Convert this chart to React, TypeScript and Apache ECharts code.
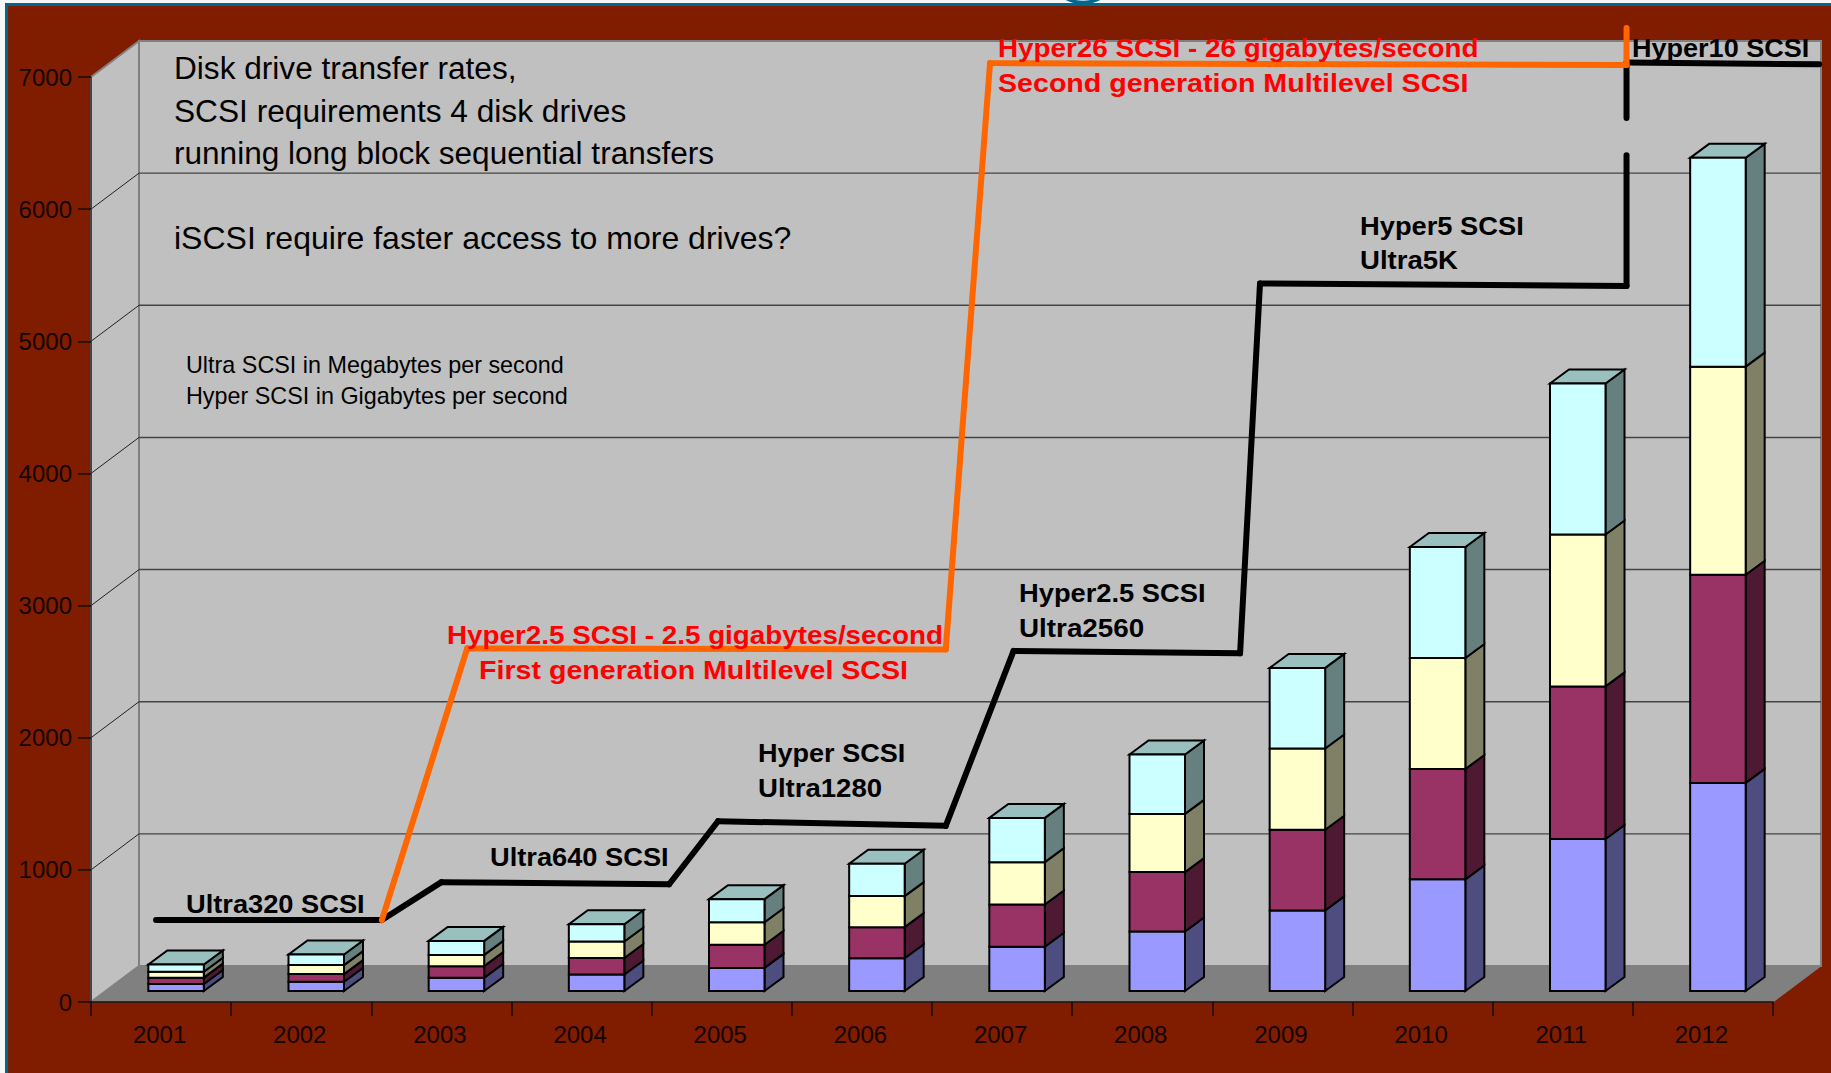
import React, { useEffect, useRef } from "react";
import * as echarts from "echarts";

const years = ["2001","2002","2003","2004","2005","2006","2007","2008","2009","2010","2011","2012"];
const drive1 = [53, 70, 100, 125, 175, 248, 335, 450, 610, 845, 1150, 1575];
const drive2 = [48, 58, 88, 125, 175, 235, 320, 450, 610, 835, 1155, 1575];
const drive3 = [45, 68, 85, 125, 170, 235, 320, 440, 615, 840, 1150, 1575];
const drive4 = [55, 80, 106, 130, 175, 245, 335, 450, 610, 840, 1142, 1580];
const yTicks = [1000, 2000, 3000, 4000, 5000, 6000];
const blackSteps = [[0.464,620],[2.075,620],[2.50,907],[4.125,891],[4.473,1368],[6.098,1333],[6.582,2657],[8.198,2639],[8.34,5437],[10.955,5419],[10.955,6408]];
const blackTop = [[10.955,6690],[10.955,7110],[12.33,7096]];
const orangeSteps = [[2.075,620],[2.684,2676],[6.098,2668],[6.414,7105],[10.955,7090],[10.955,7370]];
const headingLines = ["Disk drive transfer rates,","SCSI requirements 4 disk drives","running long block sequential transfers"];
const questionLine = "iSCSI require faster access to more drives?";
const unitLines = ["Ultra SCSI in Megabytes per second","Hyper SCSI in Gigabytes per second"];

const DX = 48, DY = 36;           // depth of the box
const BAR_W = 55.5, BAR_DX = 19, BAR_DY = 14, BAR_OFF_X = 15, BAR_OFF_Y = 11;

function buildLayer(values: number[], lower: number[][]) {
  return values.map((v, i) => {
    const base = lower.reduce((s, arr) => s + arr[i], 0);
    return [i, base, base + v];
  });
}

function barSeries(values: number[], lower: number[][], front: string, side: string, top: string | null) {
  return {
    type: "custom",
    xAxisIndex: 0,
    yAxisIndex: 0,
    z: 3,
    silent: true,
    data: buildLayer(values, lower),
    encode: { x: 0, y: [1, 2] },
    renderItem: (_p: any, api: any) => {
      const i = api.value(0);
      const c0 = api.coord([i, api.value(1)]);
      const c1 = api.coord([i, api.value(2)]);
      const x0 = c0[0] + BAR_OFF_X - BAR_W / 2, x1 = x0 + BAR_W;
      const yb = c0[1] - BAR_OFF_Y, yt = c1[1] - BAR_OFF_Y;
      const ls = { stroke: "#000", lineWidth: 2, lineJoin: "miter" };
      const children: any[] = [
        { type: "polygon", shape: { points: [[x1, yb], [x1 + BAR_DX, yb - BAR_DY], [x1 + BAR_DX, yt - BAR_DY], [x1, yt]] }, style: { fill: side, ...ls } },
      ];
      if (top) children.push({ type: "polygon", shape: { points: [[x0, yt], [x0 + BAR_DX, yt - BAR_DY], [x1 + BAR_DX, yt - BAR_DY], [x1, yt]] }, style: { fill: top, ...ls } });
      children.push({ type: "rect", shape: { x: x0, y: yt, width: BAR_W, height: yb - yt }, style: { fill: front, ...ls } });
      return { type: "group", children };
    },
  };
}

function wallSeries() {
  return {
    type: "custom", xAxisIndex: 1, yAxisIndex: 0, z: 1, silent: true, data: [[0, 0]],
    renderItem: (_p: any, api: any) => {
      const a = api.coord([0, 0]), b = api.coord([12, 0]), t = api.coord([0, 7000]);
      const grey = "#808080";
      return {
        type: "group",
        children: [
          { type: "polygon", shape: { points: [[a[0], a[1]], [a[0] + DX, a[1] - DY], [t[0] + DX, t[1] - DY], [t[0], t[1]]] }, style: { fill: "#c0c0c0", stroke: grey, lineWidth: 2 } },
          { type: "rect", shape: { x: a[0] + DX, y: t[1] - DY, width: b[0] - a[0], height: a[1] - t[1] }, style: { fill: "#c0c0c0", stroke: grey, lineWidth: 2 } },
          { type: "polygon", shape: { points: [[a[0], a[1]], [b[0], b[1]], [b[0] + DX, b[1] - DY], [a[0] + DX, a[1] - DY]] }, style: { fill: "#808080", stroke: grey, lineWidth: 1 } },
        ],
      };
    },
  };
}

function gridSeries() {
  return {
    type: "custom", xAxisIndex: 1, yAxisIndex: 0, z: 2, silent: true,
    data: yTicks.map((v) => [0, v]),
    renderItem: (_p: any, api: any) => {
      const v = api.value(1);
      const a = api.coord([0, v]), b = api.coord([12, v]);
      return {
        type: "group",
        children: [
          { type: "line", shape: { x1: a[0], y1: a[1], x2: a[0] + DX, y2: a[1] - DY }, style: { stroke: "#222", lineWidth: 1 } },
          { type: "line", shape: { x1: a[0] + DX, y1: a[1] - DY, x2: b[0] + DX, y2: b[1] - DY }, style: { stroke: "#444", lineWidth: 1.4 } },
        ],
      };
    },
  };
}

function stepLine(data: number[][], color: string, z: number) {
  return {
    type: "custom", xAxisIndex: 1, yAxisIndex: 0, data, silent: true, z, clip: false,
    encode: { x: 0, y: 1 },
    renderItem: (params: any, api: any) => {
      const i = params.dataIndex;
      if (i === 0) return { type: "group", children: [] };
      const p0 = api.coord(data[i - 1]);
      const p1 = api.coord(data[i]);
      return {
        type: "line",
        shape: { x1: p0[0], y1: p0[1], x2: p1[0], y2: p1[1] },
        style: { stroke: color, lineWidth: 6, lineCap: "round" },
      };
    },
  };
}

function note(text: string, x: number, y: number, size: number, weight: string, fill: string, sx = 1) {
  return {
    type: "text", x, y, z: 50, silent: true, scaleX: sx,
    style: { text, fontFamily: "'Liberation Sans', Arial, sans-serif", fontSize: size, fontWeight: weight, fill, textAlign: "left", textVerticalAlign: "middle" },
  };
}

export default function App() {
  const ref = useRef<HTMLDivElement>(null);
  useEffect(() => {
    document.body.style.margin = "0";
    const chart = echarts.init(ref.current!, undefined, { renderer: "svg" });
    const axisFont = { fontFamily: "'Liberation Sans', Arial, sans-serif", fontSize: 24, color: "#140400" };
    chart.setOption({
      animation: false,
      backgroundColor: "transparent",
      grid: { left: 91, top: 77, width: 1682, height: 925, containLabel: false },
      xAxis: [
        {
          type: "category", data: years, boundaryGap: true, z: 6,
          axisLine: { show: true, lineStyle: { color: "#1a0a05", width: 1.5 } },
          axisTick: { show: true, length: 14, alignWithLabel: false, lineStyle: { color: "#1a0a05", width: 1.5 } },
          axisLabel: { ...axisFont, margin: 20, interval: 0, padding: [0, 3, 0, 0] },
          splitLine: { show: false },
        },
        { type: "value", min: 0, max: 12, show: false, position: "top", splitLine: { show: false } },
      ],
      yAxis: [
        {
          type: "value", min: 0, max: 7000, interval: 1000, z: 6,
          axisLine: { show: true, lineStyle: { color: "#333", width: 1.5 } },
          axisTick: { show: true, length: 13, lineStyle: { color: "#1a0a05", width: 1.5 } },
          axisLabel: { ...axisFont, margin: 19, padding: [0, 0, 7, 0], formatter: (v: number) => String(v) },
          splitLine: { show: false },
        },
      ],
      graphic: { elements: [
        { type: "ring", x: 1083, y: -36, z: 60, shape: { r: 40, r0: 36.8 }, style: { fill: "#00688f" }, silent: true },
        note(headingLines[0], 174, 69, 31, "normal", "#000", 1.02),
        note(headingLines[1], 174, 112, 31, "normal", "#000", 1.022),
        note(headingLines[2], 174, 154, 31, "normal", "#000", 1.018),
        note(questionLine, 174, 238, 31, "normal", "#000", 1.033),
        note(unitLines[0], 186, 365, 23, "normal", "#000", 1.016),
        note(unitLines[1], 186, 396, 23, "normal", "#000", 1.016),
        note("Ultra320 SCSI", 186, 904, 26, "bold", "#000", 1.048),
        note("Ultra640 SCSI", 490, 857, 26, "bold", "#000", 1.048),
        note("Hyper SCSI", 758, 753, 26, "bold", "#000", 1.04),
        note("Ultra1280", 758, 788, 26, "bold", "#000", 1.06),
        note("Hyper2.5 SCSI", 1019, 593, 26, "bold", "#000", 1.05),
        note("Ultra2560", 1019, 628, 26, "bold", "#000", 1.07),
        note("Hyper5 SCSI", 1360, 226, 26, "bold", "#000", 1.05),
        note("Ultra5K", 1360, 260, 26, "bold", "#000", 1.06),
        note("Hyper10 SCSI", 1632, 48, 26, "bold", "#000", 1.04),
        note("Hyper2.5 SCSI - 2.5 gigabytes/second", 447, 635, 26, "bold", "#ff0000", 1.07),
        note("First generation Multilevel SCSI", 479, 670, 26, "bold", "#ff0000", 1.1),
        note("Hyper26 SCSI - 26 gigabytes/second", 998, 48, 26, "bold", "#ff0000", 1.07),
        note("Second generation Multilevel SCSI", 998, 83, 26, "bold", "#ff0000", 1.1),
      ] },
      series: [
        wallSeries(),
        gridSeries(),
        barSeries(drive1, [], "#9999ff", "#4d4d80", null),
        barSeries(drive2, [drive1], "#993366", "#4d1933", null),
        barSeries(drive3, [drive1, drive2], "#ffffcc", "#808066", null),
        barSeries(drive4, [drive1, drive2, drive3], "#ccffff", "#668080", "#99bfbf"),
        stepLine(blackSteps, "#000", 10),
        stepLine(blackTop, "#000", 10),
        stepLine(orangeSteps, "#ff6600", 11),
      ],
    });
    return () => chart.dispose();
  }, []);
  return (
    <div style={{ position: "absolute", left: 0, top: 0, width: 1831, height: 1073, background: "#f6f8f8", overflow: "hidden" }}>
      <div style={{ position: "absolute", left: 5, top: 3, right: 0, bottom: 0, background: "#801c00", borderLeft: "3px solid #00688f", borderTop: "3px solid #00688f" }} />
      <div ref={ref} style={{ position: "absolute", left: 0, top: 0, width: 1831, height: 1073 }} />
    </div>
  );
}
